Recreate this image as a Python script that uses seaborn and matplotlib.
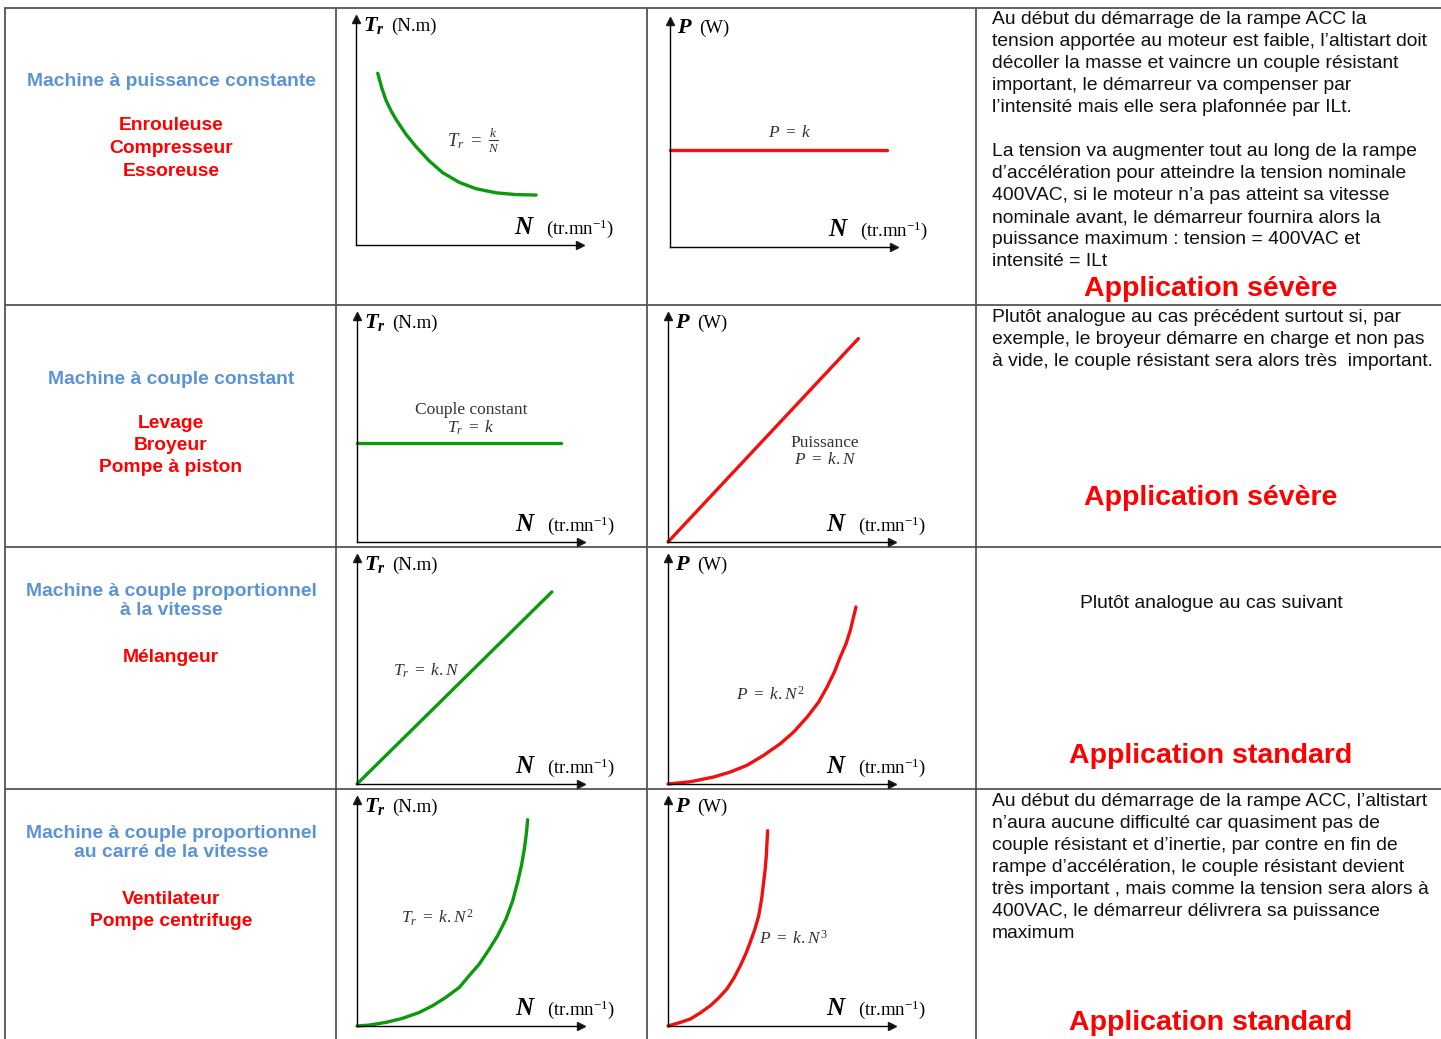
import matplotlib
matplotlib.use("Agg")
import matplotlib.pyplot as plt
import seaborn as sns

sns.set_theme(style="white")
plt.rcParams['font.family'] = ['Liberation Sans', 'DejaVu Sans']
plt.rcParams['mathtext.rm'] = 'Liberation Serif'
plt.rcParams['mathtext.it'] = 'Liberation Serif:italic'
plt.rcParams['mathtext.bf'] = 'Liberation Serif:italic:bold'

W, H = 1441, 1039

# --- curve data, speed N and torque / power in arbitrary units (0..10) ---
n_hyper = [0.97, 1.15, 1.34, 1.56, 1.79, 2.23, 2.68, 3.27, 3.87, 4.61, 5.36, 6.25, 7.14, 8.04]
t_hyper = [7.60, 6.95, 6.40, 5.95, 5.55, 4.90, 4.35, 3.72, 3.20, 2.77, 2.49, 2.31, 2.23, 2.21]

n_pconst = [0.0, 9.7]
p_pconst = [4.3, 4.3]

n_tconst = [0.0, 9.1]
t_tconst = [4.4, 4.4]

n_plin = [0.0, 8.5]
p_plin = [0.0, 9.0]

n_tlin = [0.0, 8.7]
t_tlin = [0.0, 8.5]

n_psq = [0.0, 1.00, 2.04, 2.78, 3.53, 4.27, 5.01, 5.61, 6.21, 6.73, 7.10, 7.43,
         7.69, 7.95, 8.14, 8.39]
p_psq = [0.0, 0.10, 0.31, 0.53, 0.83, 1.27, 1.78, 2.30, 2.96, 3.63, 4.29, 4.96,
         5.62, 6.21, 6.80, 7.83]

n_tsq = [0.0, 0.55, 1.29, 2.04, 2.78, 3.38, 3.97, 4.57, 5.01, 5.46, 5.91, 6.28,
         6.65, 6.95, 7.17, 7.34, 7.47, 7.56, 7.62]
t_tsq = [0.0, 0.04, 0.16, 0.34, 0.60, 0.90, 1.27, 1.71, 2.23, 2.74, 3.41, 4.00,
         4.73, 5.54, 6.36, 7.09, 7.83, 8.50, 9.13]

n_pcube = [0.0, 0.55, 1.00, 1.44, 1.89, 2.26, 2.63, 2.96, 3.23, 3.47, 3.67, 3.88,
           4.05, 4.18, 4.27, 4.34, 4.39, 4.42, 4.45]
p_pcube = [0.0, 0.16, 0.31, 0.58, 0.90, 1.24, 1.64, 2.15, 2.67, 3.19, 3.70, 4.29,
           4.88, 5.62, 6.36, 6.95, 7.54, 8.13, 8.64]

# --- table texts ---
machines = ["Machine à puissance constante", "Machine à couple constant",
            "Machine à couple proportionnel\nà la vitesse",
            "Machine à couple proportionnel\nau carré de la vitesse"]
uses = [["Enrouleuse", "Compresseur", "Essoreuse"],
        ["Levage", "Broyeur", "Pompe à piston"],
        ["Mélangeur"],
        ["Ventilateur", "Pompe centrifuge"]]

desc1a = ["Au début du démarrage de la rampe ACC la",
          "tension apportée au moteur est faible, l’altistart doit",
          "décoller la masse et vaincre un couple résistant",
          "important, le démarreur va compenser par",
          "l’intensité mais elle sera plafonnée par ILt."]
desc1b = ["La tension va augmenter tout au long de la rampe",
          "d’accélération pour atteindre la tension nominale",
          "400VAC, si le moteur n’a pas atteint sa vitesse",
          "nominale avant, le démarreur fournira alors la",
          "puissance maximum : tension = 400VAC et",
          "intensité = ILt"]
desc2 = ["Plutôt analogue au cas précédent surtout si, par",
         "exemple, le broyeur démarre en charge et non pas",
         "à vide, le couple résistant sera alors très  important."]
desc3 = "Plutôt analogue au cas suivant"
desc4 = ["Au début du démarrage de la rampe ACC, l’altistart",
         "n’aura aucune difficulté car quasiment pas de",
         "couple résistant et d’inertie, par contre en fin de",
         "rampe d’accélération, le couple résistant devient",
         "très important , mais comme la tension sera alors à",
         "400VAC, le démarreur délivrera sa puissance",
         "maximum"]
verdicts = ["Application sévère", "Application sévère",
            "Application standard", "Application standard"]

BLUE = '#5b93d8'
RED = '#ff0000'
GREEN = '#0b9a0b'
CURVE_RED = '#f01010'
FORM = '#333333'

fig = plt.figure(figsize=(W / 100, H / 100), dpi=100)
bg = fig.add_axes([0, 0, 1, 1])
bg.set_xlim(0, W)
bg.set_ylim(H, 0)
bg.axis('off')

# table grid
gcol = '#555555'
for x in [5, 336, 647, 976]:
    bg.plot([x, x], [8, H], color=gcol, lw=1.3)
for y in [8, 305, 547, 789]:
    bg.plot([5, W], [y, y], color=gcol, lw=1.3)

# left column
title_y = [82, 380, 601, 843]
use_y = [126, 423, 657, 899]
for i in range(4):
    bg.text(171, title_y[i], machines[i], color=BLUE, fontsize=13.9, weight='bold',
            ha='center', va='center', linespacing=1.1)
    for j, u in enumerate(uses[i]):
        bg.text(171, use_y[i] + 22.5 * j, u, color=RED, fontsize=13.9, weight='bold',
                ha='center', va='center')

# right column
def para(lines, y0):
    for k, line in enumerate(lines):
        bg.text(992, y0 + 22 * k, line, color='#111111', fontsize=13.9,
                ha='left', va='center')

para(desc1a, 20)
para(desc1b, 152)
para(desc2, 318)
para(desc4, 802)
bg.text(1211, 604, desc3, color='#111111', fontsize=13.9, ha='center', va='center')
for y, v in zip([289, 498, 756, 1023], verdicts):
    bg.text(1211, y, v, color=RED, fontsize=20.5, weight='bold', ha='center', va='center')

# small charts
AX_W, AX_H = 224, 226


def add_chart(ox, oy, xs, ys, color, sym, unit, unit_dx):
    ax = fig.add_axes([ox / W, 1 - oy / H, AX_W / W, AX_H / H])
    ax.patch.set_alpha(0)
    sns.lineplot(x=xs, y=ys, ax=ax, color=color, linewidth=2.4)
    for ln in ax.lines:
        ln.set_clip_on(False)
        ln.set_solid_joinstyle('round')
    ax.set_xlim(0, 10)
    ax.set_ylim(0, 10)
    ax.set_xticks([])
    ax.set_yticks([])
    ax.grid(False)
    for s in ['top', 'right']:
        ax.spines[s].set_visible(False)
    for s in ['left', 'bottom']:
        ax.spines[s].set_color('black')
        ax.spines[s].set_linewidth(1.0)
    ax.plot(1, 0, '>k', transform=ax.transAxes, clip_on=False, markersize=6)
    ax.plot(0, 1, '^k', transform=ax.transAxes, clip_on=False, markersize=6)
    # axis labels
    top = oy - AX_H
    bg.text(ox + 7, top + 12, r'$\mathbf{' + sym + '}$', math_fontfamily='custom',
            fontsize=16, ha='left', va='baseline', color='black')
    bg.text(ox + unit_dx, top + 12, unit, family='Liberation Serif',
            fontsize=13.5, ha='left', va='baseline', color='black')
    bg.text(ox + 158, oy - 11, r'$\mathbf{N}$', math_fontfamily='custom',
            fontsize=18, ha='left', va='baseline', color='black')
    bg.text(ox + 190, oy - 11, r'(tr.mn$^{\mathrm{-1}}$)', family='Liberation Serif',
            math_fontfamily='custom', fontsize=13.5, ha='left', va='baseline', color='black')
    return ax


add_chart(356, 245, n_hyper, t_hyper, GREEN, 'T_r', '(N.m)', 35)
add_chart(670, 247, n_pconst, p_pconst, CURVE_RED, 'P', '(W)', 29)
add_chart(357, 542, n_tconst, t_tconst, GREEN, 'T_r', '(N.m)', 35)
add_chart(668, 542, n_plin, p_plin, CURVE_RED, 'P', '(W)', 29)
add_chart(357, 784, n_tlin, t_tlin, GREEN, 'T_r', '(N.m)', 35)
add_chart(668, 784, n_psq, p_psq, CURVE_RED, 'P', '(W)', 29)
add_chart(357, 1026, n_tsq, t_tsq, GREEN, 'T_r', '(N.m)', 35)
add_chart(668, 1026, n_pcube, p_pcube, CURVE_RED, 'P', '(W)', 29)

# formulas
def formula(x, y, s, size=12.5):
    bg.text(x, y, s, math_fontfamily='custom', family='Liberation Serif',
            fontsize=size, color=FORM, ha='center', va='center')

formula(473, 141, r'$T_r\ =\ \frac{k}{N}$', 13.5)
formula(790, 133, r'$P\ =\ k$')
formula(471, 410, 'Couple constant')
formula(471, 428, r'$T_r\ =\ k$')
formula(825, 443, 'Puissance')
formula(825, 460, r'$P\ =\ k{.}N$')
formula(426, 671, r'$T_r\ =\ k{.}N$')
formula(770, 695, r'$P\ =\ k{.}N^2$')
formula(437, 918, r'$T_r\ =\ k{.}N^2$')
formula(793, 939, r'$P\ =\ k{.}N^3$')

fig.savefig('out.png', dpi=100, facecolor='white')
